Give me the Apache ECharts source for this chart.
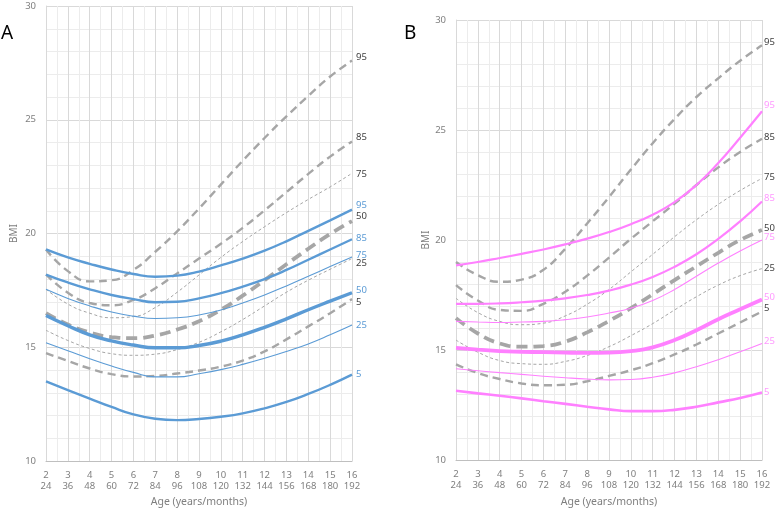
<!DOCTYPE html>
<html><head><meta charset="utf-8">
<script src="https://cdn.jsdelivr.net/npm/echarts@6/dist/echarts.min.js"></script>
<style>html,body{margin:0;padding:0;background:#fff}#c{width:778px;height:513px}</style>
</head><body><div id="c"></div>
<script>
const ages = [2,3,4,5,6,7,8,9,10,11,12,13,14,15,16];
const tickYears = [2,3,4,5,6,7,8,9,10,11,12,13,14,15,16];
const tickMonths = [24,36,48,60,72,84,96,108,120,132,144,156,168,180,192];
const percentiles = ['95','85','75','50','25','5'];

// Panel A – grey dashed reference percentiles
const aRef95 = [19.3,18.35,17.9,17.95,18.4,19.2,20.1,21.1,22.15,23.2,24.2,25.15,26.05,26.9,27.6];
const aRef85 = [18.2,17.4,16.95,16.85,17.08,17.6,18.25,18.9,19.55,20.25,21.02,21.82,22.62,23.38,24.05];
const aRef75 = [17.55,16.9,16.5,16.3,16.35,16.75,17.42,18.18,18.95,19.65,20.3,20.92,21.5,22.05,22.65];
const aRef50 = [16.5,16.0,15.65,15.45,15.4,15.52,15.78,16.15,16.65,17.27,17.95,18.65,19.33,19.98,20.55];
const aRef25 = [15.75,15.3,14.95,14.72,14.65,14.7,14.9,15.22,15.68,16.22,16.82,17.42,17.95,18.43,18.9];
const aRef5  = [14.75,14.4,14.07,13.82,13.72,13.74,13.85,13.98,14.15,14.42,14.82,15.35,15.92,16.5,17.12];
// Panel A – blue percentiles
const a95 = [19.3,18.95,18.67,18.42,18.22,18.1,18.15,18.33,18.6,18.9,19.25,19.66,20.12,20.58,21.05];
const a85 = [18.2,17.85,17.55,17.3,17.12,16.98,17.0,17.15,17.38,17.67,18.0,18.4,18.85,19.3,19.75];
const a75 = [17.55,17.15,16.82,16.55,16.37,16.27,16.3,16.42,16.64,16.95,17.3,17.7,18.12,18.55,18.97];
const a50 = [16.4,15.95,15.55,15.28,15.1,14.98,14.98,15.08,15.27,15.55,15.88,16.25,16.65,17.03,17.4];
const a25 = [15.2,14.85,14.5,14.18,13.9,13.7,13.7,13.84,14.02,14.25,14.52,14.82,15.15,15.55,15.98];
const a5  = [13.5,13.12,12.75,12.38,12.05,11.86,11.8,11.85,11.95,12.1,12.32,12.6,12.95,13.35,13.8];

// Panel B – grey dashed reference percentiles
const bRef95 = [19.0,18.4,18.1,18.2,18.65,19.6,20.75,21.95,23.2,24.4,25.5,26.5,27.35,28.15,28.85];
const bRef85 = [17.95,17.25,16.82,16.78,17.1,17.65,18.38,19.2,20.05,20.85,21.65,22.5,23.3,24.0,24.6];
const bRef75 = [17.35,16.7,16.3,16.15,16.22,16.55,17.08,17.75,18.55,19.35,20.15,20.92,21.62,22.25,22.8];
const bRef50 = [16.45,15.75,15.3,15.15,15.18,15.38,15.8,16.32,16.9,17.53,18.18,18.8,19.42,20.0,20.45];
const bRef25 = [15.45,14.9,14.52,14.38,14.35,14.48,14.75,15.15,15.65,16.2,16.82,17.42,17.95,18.38,18.7];
const bRef5  = [14.35,13.95,13.68,13.48,13.4,13.42,13.58,13.82,14.08,14.4,14.8,15.25,15.75,16.25,16.75];
// Panel B – pink percentiles
const b95 = [18.85,19.0,19.18,19.37,19.57,19.8,20.06,20.36,20.72,21.15,21.72,22.5,23.5,24.65,25.85];
const b85 = [17.1,17.1,17.12,17.17,17.24,17.35,17.5,17.7,17.97,18.32,18.78,19.35,20.05,20.85,21.75];
const b75 = [16.3,16.27,16.25,16.27,16.3,16.38,16.5,16.68,16.9,17.25,17.75,18.35,18.95,19.5,20.0];
const b50 = [15.1,15.02,14.95,14.92,14.9,14.88,14.87,14.88,14.95,15.12,15.45,15.9,16.4,16.85,17.3];
const b25 = [14.15,14.06,13.97,13.89,13.81,13.74,13.68,13.64,13.66,13.76,13.96,14.24,14.56,14.92,15.3];
const b5  = [13.15,13.03,12.92,12.8,12.67,12.55,12.42,12.3,12.22,12.22,12.28,12.42,12.62,12.82,13.07];

const GREY = '#a6a6a6', GREY_LBL = '#3f3f3f';
const BLUE = '#5b9bd5', BLUE_LBL = '#5b9bd5';
const PINK = '#ff80ff', PINK_LBL = '#ff99ff';
const FONT = 'Noto Sans';

const dashHeavy = [8, 5], dashBold = [11, 6], dashFine = [3, 2.5];

function mk(panel, key, pct, data, color, width, dash, lblColor, dist, dy) {
  return {
    name: key, type: 'line', xAxisIndex: panel, yAxisIndex: panel,
    data: ages.map((a, i) => [a, data[i]]),
    smooth: 0.5, symbol: 'none', silent: true,
    lineStyle: { color: color, width: width, type: dash || 'solid', cap: 'butt' },
    endLabel: { show: true, formatter: pct, color: lblColor, fontSize: 9.5, fontFamily: FONT,
      distance: dist, offset: [0, dy] },
    emphasis: { disabled: true }
  };
}

const series = [
  mk(0,'aR95',percentiles[0],aRef95,GREY,2.4,dashHeavy,GREY_LBL,4,-3),
  mk(0,'aR85',percentiles[1],aRef85,GREY,2.4,dashHeavy,GREY_LBL,4,-4),
  mk(0,'aR75',percentiles[2],aRef75,GREY,1,dashFine,GREY_LBL,4,1),
  mk(0,'aR50',percentiles[3],aRef50,GREY,3.8,dashBold,GREY_LBL,4,-4.5),
  mk(0,'aR25',percentiles[4],aRef25,GREY,1,dashFine,GREY_LBL,4,5),
  mk(0,'aR5', percentiles[5],aRef5, GREY,2.4,dashHeavy,GREY_LBL,4,3.5),
  mk(0,'a95',percentiles[0],a95,BLUE,2.4,null,BLUE_LBL,4,-4),
  mk(0,'a85',percentiles[1],a85,BLUE,2.4,null,BLUE_LBL,4,-0.5),
  mk(0,'a75',percentiles[2],a75,BLUE,1.1,null,BLUE_LBL,4,-1.5),
  mk(0,'a50',percentiles[3],a50,BLUE,3.4,null,BLUE_LBL,4,-2),
  mk(0,'a25',percentiles[4],a25,BLUE,1.1,null,BLUE_LBL,4,0),
  mk(0,'a5', percentiles[5],a5, BLUE,2.4,null,BLUE_LBL,4,0),

  mk(1,'bR95',percentiles[0],bRef95,GREY,2.4,dashHeavy,GREY_LBL,2,-3.5),
  mk(1,'bR85',percentiles[1],bRef85,GREY,2.4,dashHeavy,GREY_LBL,2,-2),
  mk(1,'bR75',percentiles[2],bRef75,GREY,1,dashFine,GREY_LBL,2,-1),
  mk(1,'bR50',percentiles[3],bRef50,GREY,3.8,dashBold,GREY_LBL,2,-1.5),
  mk(1,'bR25',percentiles[4],bRef25,GREY,1,dashFine,GREY_LBL,2,0),
  mk(1,'bR5', percentiles[5],bRef5, GREY,2.4,dashHeavy,GREY_LBL,2,-3),
  mk(1,'b95',percentiles[0],b95,PINK,2.2,null,PINK_LBL,2,-6),
  mk(1,'b85',percentiles[1],b85,PINK,2.2,null,PINK_LBL,2,-3.5),
  mk(1,'b75',percentiles[2],b75,PINK,1.1,null,PINK_LBL,2,-2.5),
  mk(1,'b50',percentiles[3],b50,PINK,3.8,null,PINK_LBL,2,-2.5),
  mk(1,'b25',percentiles[4],b25,PINK,1.1,null,PINK_LBL,2,-2),
  mk(1,'b5', percentiles[5],b5, PINK,2.6,null,PINK_LBL,2,0)
];

function xAx(gi, gap) {
  return {
    type: 'value', gridIndex: gi, min: 2, max: 16, interval: 1,
    name: 'Age (years/months)', nameLocation: 'middle', nameGap: gap,
    nameTextStyle: { color: '#7f7f7f', fontSize: 10.5, fontFamily: FONT },
    axisLine: { show: true, lineStyle: { color: '#bfbfbf', width: 1 } },
    axisTick: { show: false },
    axisLabel: { color: '#7f7f7f', fontSize: 9.5, fontFamily: FONT, margin: 9, lineHeight: 11,
      formatter: v => { const i = tickYears.indexOf(v); return i < 0 ? '' : tickYears[i] + '\n' + tickMonths[i]; } },
    splitLine: { show: true, lineStyle: { color: '#d9d9d9', width: 1 } },
    minorTick: { show: false, splitNumber: 2 },
    minorSplitLine: { show: true, lineStyle: { color: '#ececec', width: 1 } }
  };
}
function yAx(gi, gap) {
  return {
    type: 'value', gridIndex: gi, min: 10, max: 30, interval: 5,
    name: 'BMI', nameLocation: 'middle', nameGap: gap, nameRotate: 90,
    nameTextStyle: { color: '#7f7f7f', fontSize: 10, fontFamily: FONT },
    axisLine: { show: true, lineStyle: { color: '#d9d9d9', width: 1 } },
    axisTick: { show: false },
    axisLabel: { color: '#7f7f7f', fontSize: 9.5, fontFamily: FONT, margin: 10 },
    splitLine: { show: true, lineStyle: { color: '#d9d9d9', width: 1 } },
    minorTick: { show: false, splitNumber: 5 },
    minorSplitLine: { show: true, lineStyle: { color: '#ececec', width: 1 } }
  };
}

const chart = echarts.init(document.getElementById('c'), null, { renderer: 'canvas' });
chart.setOption({
  animation: false,
  backgroundColor: '#ffffff',
  grid: [
    { left: 46, top: 6, width: 306, height: 461, containLabel: false },
    { left: 456, top: 20, width: 306, height: 445, containLabel: false }
  ],
  xAxis: [xAx(0, 35), xAx(1, 37)],
  yAxis: [yAx(0, 27), yAx(1, 24)],
  graphic: [
    { type: 'text', left: 1, top: 24, style: { text: 'A', font: '19px "Noto Sans"', fill: '#000' } },
    { type: 'text', left: 404, top: 24, style: { text: 'B', font: '19px "Noto Sans"', fill: '#000' } }
  ],
  series: series
});
</script>
</body></html>
